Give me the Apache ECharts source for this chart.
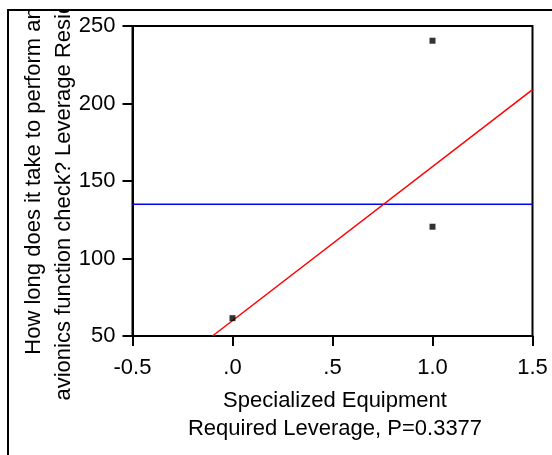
<!DOCTYPE html>
<html>
<head>
<meta charset="utf-8">
<script src="https://cdn.jsdelivr.net/npm/echarts@6/dist/echarts.min.js"></script>
<style>
html,body{margin:0;padding:0;background:#fff;}
#chart{width:552px;height:455px;}
</style>
</head>
<body>
<div id="chart"></div>
<script>
// ---- data ----
const xTickLabels = ['-0.5', '.0', '.5', '1.0', '1.5'];
const yTickValues = [50, 100, 150, 200, 250];
const pointsX = [0, 1, 1];
const pointsY = [61.5, 240.5, 120.5];
const fitLineX = [-0.1, 1.5];
const fitLineY = [50, 209];
const meanLineX = [-0.5, 1.5];
const meanLineY = [135, 135];
const xTitle = 'Specialized Equipment\nRequired Leverage, P=0.3377';
const yTitle = 'How long does it take to perform an\navionics function check? Leverage Residuals';

const xMin = -0.5, xMax = 1.5, xInterval = 0.5;
const yMin = 50, yMax = 250, yInterval = 50;
const FONT = "'Liberation Sans', Arial, sans-serif";

const zip = (xs, ys) => xs.map((x, i) => [x, ys[i]]);

const chart = echarts.init(document.getElementById('chart'), null, {renderer: 'canvas'});
chart.setOption({
  animation: false,
  backgroundColor: '#fff',
  grid: {
    left: 132.5, right: 19.5, top: 26, bottom: 119,
    containLabel: false, outerBoundsMode: 'none',
    show: true, borderColor: '#000', borderWidth: 2, backgroundColor: 'transparent'
  },
  xAxis: {
    type: 'value', min: xMin, max: xMax, interval: xInterval,
    name: xTitle, nameLocation: 'middle', nameGap: 51, nameMoveOverlap: false,
    nameTextStyle: {fontFamily: FONT, fontSize: 22, color: '#000', lineHeight: 28, padding: [0, 0, 0, 5]},
    axisLine: {show: true, onZero: false, lineStyle: {color: '#000', width: 2}},
    axisTick: {show: true, length: 10, lineStyle: {color: '#000', width: 2}},
    axisLabel: {
      fontFamily: FONT, fontSize: 22, color: '#000', margin: 21,
      formatter: v => xTickLabels[Math.round((v - xMin) / xInterval)]
    },
    splitLine: {show: false}
  },
  yAxis: {
    type: 'value', min: yMin, max: yMax, interval: yInterval,
    name: yTitle, nameLocation: 'middle', nameGap: 54, nameMoveOverlap: false,
    nameTextStyle: {fontFamily: FONT, fontSize: 22, color: '#000', lineHeight: 30},
    axisLine: {show: true, onZero: false, lineStyle: {color: '#000', width: 2}},
    axisTick: {show: true, length: 10, lineStyle: {color: '#000', width: 2}},
    axisLabel: {
      fontFamily: FONT, fontSize: 22, color: '#000', margin: 17,
      formatter: v => String(yTickValues[Math.round((v - yMin) / yInterval)])
    },
    splitLine: {show: false}
  },
  series: [
    {
      type: 'line', data: zip(meanLineX, meanLineY), symbol: 'none',
      lineStyle: {color: '#0000ff', width: 1.5}, z: 2
    },
    {
      type: 'line', data: zip(fitLineX, fitLineY), symbol: 'none',
      lineStyle: {color: '#ff0000', width: 1.5}, z: 3
    },
    {
      type: 'scatter', data: zip(pointsX, pointsY), symbol: 'rect', symbolSize: 6,
      itemStyle: {color: '#000'}, z: 4
    }
  ],
  graphic: [
    {type: 'rect', z: 100, shape: {x: 0, y: 0, width: 552, height: 9}, style: {fill: '#fff'}},
    {type: 'rect', z: 101, shape: {x: 8, y: 10, width: 600, height: 500},
     style: {fill: 'none', stroke: '#000', lineWidth: 2}}
  ]
});
</script>
</body>
</html>
